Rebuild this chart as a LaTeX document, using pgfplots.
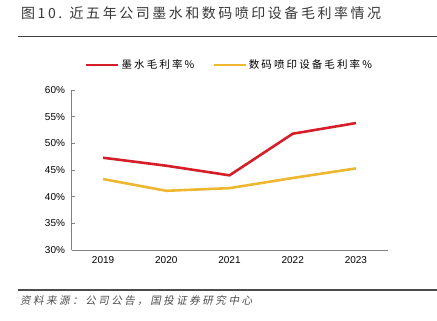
\documentclass[border=0pt]{standalone}
\usepackage{fontspec}
\usepackage{pgfplots}
\pgfplotsset{compat=1.18}
\setmainfont{Liberation Sans}
\newfontfamily\cjk[LetterSpace=20]{Noto Sans CJK SC}
\newfontfamily\cjkt[LetterSpace=18]{Noto Sans CJK SC}
\newfontfamily\cjkit[FakeSlant=0.2,LetterSpace=24]{Noto Sans CJK SC}
\definecolor{inkred}{RGB}{214,30,40}
\definecolor{devyel}{RGB}{237,183,50}
\definecolor{axgray}{RGB}{128,128,128}
\begin{document}
\begin{tikzpicture}
\path[use as bounding box] (0bp,0bp) rectangle (437bp,321bp);
% title
\node[anchor=base west, inner sep=0pt, text=black!78] at (21bp,302bp) {\cjkt\fontsize{14bp}{16bp}\selectfont 图10. 近五年公司墨水和数码喷印设备毛利率情况};
\draw[line width=1.4bp, black!75] (18bp,284.5bp) -- (437bp,284.5bp);
% source
\draw[line width=1.2bp, black!70] (18bp,31bp) -- (437bp,31bp);
\node[anchor=base west, inner sep=0pt, text=black!70] at (20bp,17bp) {\cjkit\fontsize{10.5bp}{13bp}\selectfont 资料来源：公司公告，国投证券研究中心};
\begin{axis}[
  at={(71.5bp,71bp)}, anchor=south west,
  scale only axis, width=316bp, height=160bp,
  xmin=-0.5, xmax=4.5, ymin=30, ymax=60,
  xtick={0,1,2,3,4}, xticklabels={2019,2020,2021,2022,2023},
  ytick={30,35,40,45,50,55,60},
  yticklabel={\pgfmathprintnumber{\tick}\%},
  /pgf/number format/assume math mode=true,
  axis x line*=bottom, axis y line*=left,
  axis line style={axgray, line width=0.8bp},
  x axis line style={-}, y axis line style={-},
  xtick style={draw=none},
  ytick style={axgray, line width=0.8bp},
  tick align=inside, major tick length=3.5bp,
  tick label style={font=\fontsize{10bp}{12bp}\selectfont, text=black},
  xticklabel style={yshift=-3bp},
  yticklabel style={xshift=-3bp},
  legend columns=2,
  legend style={draw=none, at={(0.5,1.156)}, anchor=center,
    font=\cjk\fontsize{10.5bp}{12bp}\selectfont,
    /tikz/every even column/.append style={column sep=16bp}},
  legend image code/.code={\draw[#1] (0bp,0bp) -- (32bp,0bp);},
]
\addplot[inkred, line width=2.6bp] coordinates {(0,47.3) (1,45.8) (2,44.0) (3,51.8) (4,53.8)};
\addlegendentry{墨水毛利率\%}
\addplot[devyel, line width=2.6bp] coordinates {(0,43.3) (1,41.1) (2,41.6) (3,43.5) (4,45.3)};
\addlegendentry{数码喷印设备毛利率\%}
\end{axis}
\end{tikzpicture}
\end{document}
